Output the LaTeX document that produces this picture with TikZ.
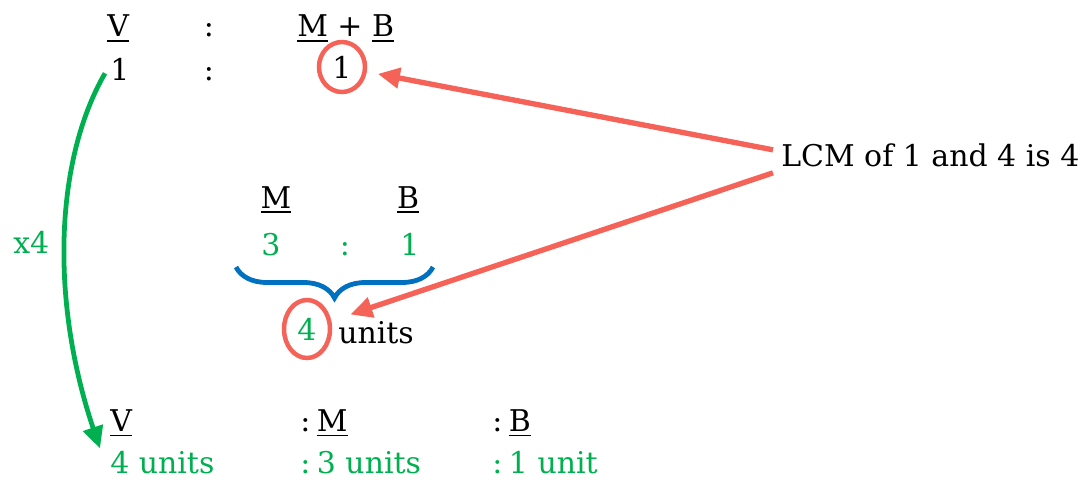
\documentclass[tikz,border=0pt]{standalone}
\usepackage{fontspec}
\setmainfont{DejaVu Serif}
\usepackage{amsmath}
\usetikzlibrary{arrows.meta, decorations.pathreplacing, shapes.geometric}

\definecolor{ratiogreen}{RGB}{0,176,80}
\definecolor{lcmred}{RGB}{245,98,88}
\definecolor{braceblue}{RGB}{0,112,192}

\tikzset{
  txt/.style={inner sep=0, anchor=base west},
  mid/.style={inner sep=0, anchor=base},
  ring/.style={ellipse, draw=lcmred, line width=3.2pt, inner sep=0},
  redarrow/.style={draw=lcmred, line width=3.8pt, -{Triangle[length=0.55cm,width=0.5cm]}},
  greenarrow/.style={draw=ratiogreen, line width=3.4pt, -{Triangle[length=0.55cm,width=0.5cm]}}
}

\begin{document}
\begin{tikzpicture}[font=\fontsize{21.3}{25}\selectfont]
        \useasboundingbox (0,0) rectangle (27.1,12.025);
        % First ratio: V : M + B
        \node[txt] (v1) at (2.675,11.1) {\underline{V}};
        \node[mid] (colon1) at (5.225,11.1) {:};
        \node[txt] (mb) at (7.425,11.1) {\underline{M} + \underline{B}};
        \node[txt] (one1) at (2.75,10.025) {1};
        \node[mid] (colon2) at (5.225,10.025) {:};
        \node[ring, minimum width=1.15cm, minimum height=1.25cm] (c1) at (8.55,10.35) {1};
        % Second ratio: M : B
        \node[mid] (hm) at (6.9,6.825) {\underline{M}};
        \node[mid] (hb) at (10.2,6.825) {\underline{B}};
        \node[mid, text=ratiogreen] (n3) at (6.775,5.65) {3};
        \node[mid, text=ratiogreen] (colon3) at (8.625,5.65) {:};
        \node[mid, text=ratiogreen] (n1) at (10.25,5.65) {1};
        % Brace and total units
        \coordinate (bl) at (5.9,5.35);
        \coordinate (br) at (10.825,5.35);
        \draw[braceblue, line width=3.4pt, decorate,
              decoration={brace, mirror, amplitude=0.775cm}] (bl) -- (br);
        \node[ring, text=ratiogreen, minimum width=1.15cm, minimum height=1.45cm] (c4) at (7.675,3.8) {4};
        \node[txt] (units) at (8.45,3.45) {units};
        % LCM note
        \node[txt] (lcm) at (19.525,7.875) {LCM of 1 and 4 is 4};
        \draw[redarrow, shorten >=0.28cm] ([xshift=-0.2cm,yshift=0.125cm]lcm.west) -- (c1);
        \draw[redarrow, shorten >=0.5cm] ([xshift=-0.2cm,yshift=-0.45cm]lcm.west) -- (c4);
        % Combined ratio
        \node[txt] (v2) at (2.75,1.25) {\underline{V}};
        \node[txt] (hm2) at (7.5,1.25) {:\hspace{0.22em}\underline{M}};
        \node[txt] (hb2) at (12.3,1.25) {:\hspace{0.22em}\underline{B}};
        \node[txt, text=ratiogreen] (r1) at (2.75,0.2) {4 units};
        \node[txt, text=ratiogreen] (r2) at (7.5,0.2) {:\hspace{0.22em}3 units};
        \node[txt, text=ratiogreen] (r3) at (12.3,0.2) {:\hspace{0.22em}1 unit};
        % Multiply by 4
        \draw[greenarrow] ([shift={(-0.125,0.175)}]one1.south west)
              .. controls (1.375,8.025) and (1.25,4.525) .. ([shift={(-0.25,0.05)}]r1.north west);
        \node[txt, text=ratiogreen] (x4) at (0.325,5.7) {x4};
      \end{tikzpicture}
\end{document}
